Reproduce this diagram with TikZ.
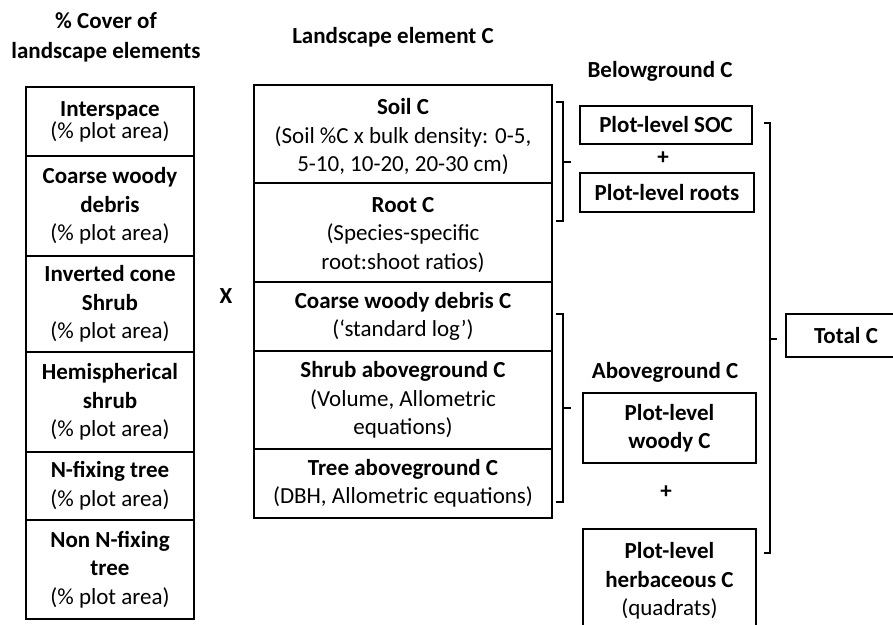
\documentclass[tikz,border=0pt]{standalone}
\usepackage{fontspec}
\setmainfont{Carlito}
\newcommand{\fsz}{\fontsize{23}{28.5}\selectfont}
\begin{document}
\begin{tikzpicture}[x=1pt,y=-1pt,line width=1.3pt,
  box/.style={draw,line width=1.3pt,inner sep=0pt,align=center,font=\fsz},
  lbox/.style={box,minimum width=168pt},
  mbox/.style={box,minimum width=298pt},
  txt/.style={inner sep=0pt,align=center,font=\fsz\bfseries},
  brk/.style={line width=1.4pt}]
\path[use as bounding box,clip] (0,0) rectangle (893,624);
\fill[white] (0,0) rectangle (893,624);

% headers
\node[txt] (h1) at (106,21) {\% Cover of};
\node[txt] (h2) at (106,52) {landscape elements};
\node[txt] (h3) at (393,37) {Landscape element C};
\node[txt] (h4) at (660,71) {Belowground C};
\node[txt] (h5) at (665,372) {Aboveground C};

% left column
\node[lbox,minimum height=69pt,font=\fontsize{23}{22}\selectfont] (l1) at (110,121.5) {\textbf{Interspace}\\(\% plot area)};
\node[lbox,minimum height=100pt] (l2) at (110,206) {\textbf{Coarse woody}\\\textbf{debris}\\(\% plot area)};
\node[lbox,minimum height=96pt] (l3) at (110,304) {\textbf{Inverted cone}\\\textbf{Shrub}\\(\% plot area)};
\node[lbox,minimum height=100pt] (l4) at (110,402) {\textbf{Hemispherical}\\\textbf{shrub}\\(\% plot area)};
\node[lbox,minimum height=68pt] (l5) at (110,486) {\textbf{N-fixing tree}\\(\% plot area)};
\node[lbox,minimum height=99pt] (l6) at (110,569.5) {\textbf{Non N-fixing}\\\textbf{tree}\\(\% plot area)};

\node[txt] (x) at (226,296) {X};

% middle column
\node[mbox,minimum height=98pt] (m1) at (403,134) {\rule{0pt}{22pt}\textbf{Soil C}\\(Soil \%C x bulk density: 0-5,\\5-10, 10-20, 20-30 cm)};
\node[mbox,minimum height=99pt] (m2) at (403,232.5) {\rule{0pt}{20pt}\textbf{Root C}\\(Species-specific\\root:shoot ratios)};
\node[mbox,minimum height=69pt] (m3) at (403,316.5) {\textbf{Coarse woody debris C}\\(‘standard log’)};
\node[mbox,minimum height=98pt] (m4) at (403,400) {\textbf{Shrub aboveground C}\\(Volume, Allometric\\equations)};
\node[mbox,minimum height=69pt] (m5) at (403,483.5) {\textbf{Tree aboveground C}\\(DBH, Allometric equations)};

% right column
\node[box,minimum width=172pt,minimum height=38pt,font=\fsz\bfseries] (soc) at (666,125) {Plot-level SOC};
\node[txt] (p1) at (663,158) {+};
\node[box,minimum width=174pt,minimum height=39pt,font=\fsz\bfseries] (roots) at (667,192.5) {Plot-level roots};
\node[box,minimum width=173pt,minimum height=70pt,font=\fsz\bfseries] (woody) at (669.5,428) {Plot-level\\woody C};
\node[txt] (p2) at (666,492) {+};
\node[box,minimum width=173pt,minimum height=104pt,font=\fsz] (herb) at (669.5,581) {\textbf{Plot-level}\\\textbf{herbaceous C}\\(quadrats)};
\node[box,minimum width=120pt,minimum height=43pt,font=\fsz\bfseries] (total) at (846,335.5) {Total C};

% belowground bracket
\coordinate (b1t) at (556,102);
\coordinate (b1b) at (556,221);
\coordinate (b1m) at (571,162);
\draw[brk] (b1t) -- ++(7,0) |- (b1b);
\draw[brk] (563,162) -- (b1m);

% aboveground bracket
\coordinate (b2t) at (556,314);
\coordinate (b2b) at (556,502);
\coordinate (b2m) at (571,408);
\draw[brk] (b2t) -- ++(7,0) |- (b2b);
\draw[brk] (563,408) -- (b2m);

% total bracket
\coordinate (b3t) at (764,123);
\coordinate (b3b) at (764,553);
\coordinate (b3m) at (777,339);
\draw[brk] (b3t) -- ++(6,0) |- (b3b);
\draw[brk] (770,339) -- (b3m);
\end{tikzpicture}
\end{document}
